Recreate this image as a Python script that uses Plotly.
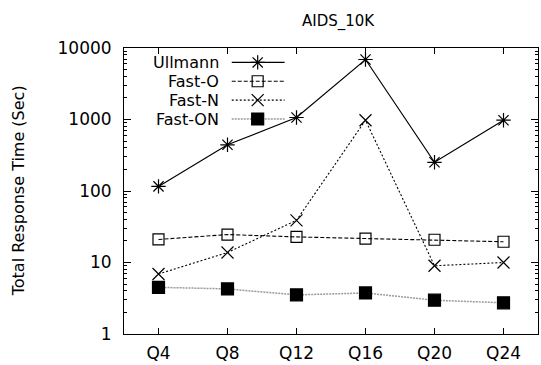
import plotly.graph_objects as go

queries = ["Q4", "Q8", "Q12", "Q16", "Q20", "Q24"]
ullmann = [116, 443, 1066, 6900, 252, 977]
fast_o = [21.0, 24.6, 22.8, 21.6, 20.8, 19.5]
fast_n = [6.9, 13.8, 38.9, 977, 9.0, 10.0]
fast_on = [4.5, 4.27, 3.52, 3.75, 2.97, 2.73]

series_names = ["Ullmann", "Fast-O", "Fast-N", "Fast-ON"]
series_values = [ullmann, fast_o, fast_n, fast_on]
y_tickvals = [1, 10, 100, 1000, 10000]
y_ticktext = ["1", "10", "100", "1000", "10000"]

styles = [
    dict(color="black", dash="solid", symbol="asterisk-open", size=12, mcolor="black", lw=1.2),
    dict(color="black", dash="4px,2px", symbol="square-open", size=11, mcolor="black", lw=1.1),
    dict(color="black", dash="2px,2px", symbol="x-thin-open", size=12, mcolor="black", lw=1.1),
    dict(color="#9a9a9a", dash="2px,1px", symbol="square", size=12, mcolor="black", lw=1.5),
]

FONT = "DejaVu Sans, Verdana, sans-serif"
L, R, T, B = 124, 2, 48, 29
W, H = 541, 365
PW, PH = W - L - R, H - T - B

fig = go.Figure()
xidx = list(range(len(queries)))
for name, vals, st in zip(series_names, series_values, styles):
    fig.add_trace(go.Scatter(
        x=xidx, y=vals, name=name, mode="lines+markers",
        line=dict(color=st["color"], dash=st["dash"], width=st["lw"]),
        marker=dict(symbol=st["symbol"], size=st["size"], color=st["mcolor"],
                    line=dict(color=st["mcolor"], width=1.2)),
        showlegend=False, cliponaxis=False,
    ))

# custom legend (gnuplot style: text right-aligned, sample to the right)
row_y = [62.5, 81.5, 100.5, 119.5]
annotations = []
for name, st, ry in zip(series_names, styles, row_y):
    fig.add_trace(go.Scatter(
        x=[232, 285], y=[ry, ry], mode="lines",
        line=dict(color=st["color"], dash=st["dash"], width=st["lw"]),
        xaxis="x2", yaxis="y2", showlegend=False, hoverinfo="skip",
    ))
    fig.add_trace(go.Scatter(
        x=[258], y=[ry], mode="markers",
        marker=dict(symbol=st["symbol"], size=st["size"], color=st["mcolor"],
                    line=dict(color=st["mcolor"], width=1.2)),
        xaxis="x2", yaxis="y2", showlegend=False, hoverinfo="skip",
    ))
    annotations.append(dict(x=220, y=ry, xref="x2", yref="y2", text=name,
                            showarrow=False, xanchor="right", yanchor="middle",
                            borderpad=0,
                            font=dict(family=FONT, size=16, color="black")))

annotations.append(dict(x=(18 - L) / PW, y=0.5, xref="paper", yref="paper",
                        text="Total Response Time (Sec)", textangle=-90,
                        showarrow=False, xanchor="center", yanchor="middle",
                        font=dict(family=FONT, size=16, color="black")))
annotations.append(dict(x=(339 - L) / PW, y=(H - B - 21) / PH, xref="paper", yref="paper",
                        text="AIDS_10K", showarrow=False, xanchor="center", yanchor="middle",
                        font=dict(family=FONT, size=15, color="black")))

fig.update_layout(
    width=W, height=H,
    margin=dict(l=L, r=R, t=T, b=B),
    paper_bgcolor="white", plot_bgcolor="white",
    font=dict(family=FONT, size=17, color="black"),
    xaxis=dict(
        range=[-0.5, 5.5], tickvals=xidx, ticktext=queries,
        ticks="inside", ticklen=6, tickwidth=1, tickcolor="black",
        showline=True, linecolor="black", linewidth=1, mirror="allticks",
        showgrid=False, zeroline=False, fixedrange=True,
        tickfont=dict(family=FONT, size=17), ticklabelstandoff=4,
    ),
    yaxis=dict(
        type="log", range=[0, 4], tickvals=y_tickvals, ticktext=y_ticktext,
        ticks="inside", ticklen=7, tickwidth=1, tickcolor="black",
        showline=True, linecolor="black", linewidth=1, mirror="allticks",
        showgrid=False, zeroline=False, fixedrange=True,
        minor=dict(ticks="inside", ticklen=3, tickcolor="black", dtick="D1", showgrid=False),
        tickfont=dict(family=FONT, size=17), ticklabelstandoff=8,
    ),
    xaxis2=dict(overlaying="x", range=[L, W - R], visible=False, fixedrange=True),
    yaxis2=dict(overlaying="y", range=[H - B, T], visible=False, fixedrange=True),
    annotations=annotations,
)

fig.write_html("out.html")
